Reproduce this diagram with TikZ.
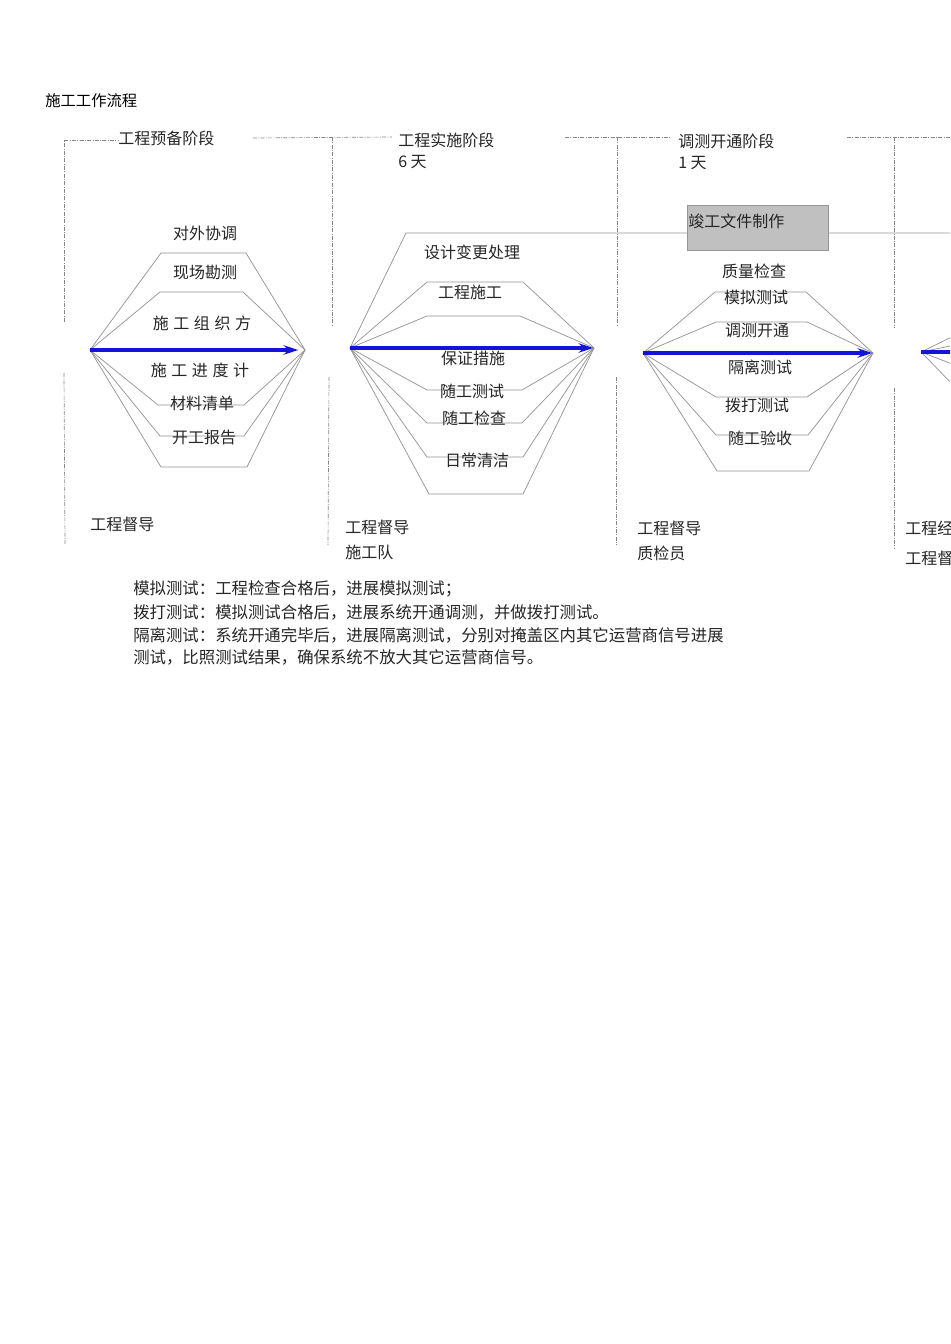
\documentclass[tikz,border=0pt]{standalone}
\usepackage{fontspec}
\setmainfont{Noto Sans CJK SC}
\usetikzlibrary{arrows.meta}
\definecolor{hexgray}{RGB}{150,150,150}
\definecolor{dashgray}{RGB}{135,135,135}
\definecolor{flowblue}{RGB}{20,20,215}
\definecolor{boxfill}{RGB}{192,192,192}
\definecolor{boxline}{RGB}{150,150,150}
\tikzset{
  txt/.style={inner sep=0pt, font=\fontsize{12pt}{14pt}\selectfont, text=black!85},
  notetxt/.style={inner sep=0pt, font=\fontsize{12.3pt}{14pt}\selectfont, text=black!85},
  titletxt/.style={inner sep=0pt, font=\fontsize{11.5pt}{13pt}\selectfont, text=black},
  hexline/.style={draw=hexgray, line width=0.55pt},
  phaseline/.style={draw=dashgray, line width=0.5pt, dash pattern=on 3pt off 1pt on 0.7pt off 1pt},
  flowarrow/.style={draw=flowblue, line width=2.6pt, -{Stealth[length=11pt,width=7pt]}},
  flowline/.style={draw=flowblue, line width=2.6pt},
  docbox/.style={draw=boxline, fill=boxfill, line width=0.5pt, minimum width=105.75pt, minimum height=33.75pt, inner sep=0pt}
}
\begin{document}
\begin{tikzpicture}[x=0.75pt,y=-0.75pt]
\useasboundingbox (0,0) rectangle (950,1344);
\clip (0,0) rectangle (950,1344);
\fill[white] (0,0) rectangle (950,1344);

% apex coordinates
\coordinate (L1) at (90,350);  \coordinate (R1) at (305,350);
\coordinate (L2) at (350,348); \coordinate (R2) at (594,348);
\coordinate (L3) at (643,353); \coordinate (R3) at (873,353);
\coordinate (L4) at (921,352); \coordinate (E4) at (960,352);

% phase frame (dash-dot)
\draw[phaseline] (64,322) -- (64,140) -- (118,140);
\draw[phaseline] (64,373) -- (65,545);
\draw[phaseline] (253,138) -- (392,137);
\draw[phaseline] (332,137) -- (332,327);
\draw[phaseline] (329,377) -- (328,545);
\draw[phaseline] (565,137) -- (670,137);
\draw[phaseline] (617,137) -- (617,327);
\draw[phaseline] (616,377) -- (616,545);
\draw[phaseline] (847,137) -- (950,137);
\draw[phaseline] (894,137) -- (894,328);
\draw[phaseline] (894,388) -- (894,548);

% section 1 shapes
\draw[hexline] (L1) -- (161,253) -- (246,253) -- (R1);
\draw[hexline] (L1) -- (160,292) -- (243,292) -- (R1);
\draw[hexline] (L1) -- (158,405) -- (244,405) -- (R1);
\draw[hexline] (L1) -- (160,436) -- (244,436) -- (R1);
\draw[hexline] (L1) -- (161,467) -- (247,467) -- (R1);
\draw[flowarrow, shorten >=5pt] (L1) -- (R1);

% section 2 shapes
\draw[hexline] (L2) -- (406,233) -- (950,233);
\draw[hexline] (L2) -- (427,282) -- (523,282) -- (R2);
\draw[hexline] (L2) -- (427,316) -- (520,316) -- (R2);
\draw[hexline] (L2) -- (427,390) -- (522,390) -- (R2);
\draw[hexline] (L2) -- (427,423) -- (522,423) -- (R2);
\draw[hexline] (L2) -- (427,457) -- (523,457) -- (R2);
\draw[hexline] (L2) -- (429,494) -- (523,494) -- (R2);
\draw[flowarrow, shorten >=0.5pt] (L2) -- (R2);

% section 3 shapes
\draw[hexline] (L3) -- (715,292) -- (806,292) -- (R3);
\draw[hexline] (L3) -- (716,322) -- (807,322) -- (R3);
\draw[hexline] (L3) -- (716,397) -- (807,397) -- (R3);
\draw[hexline] (L3) -- (716,435) -- (808,435) -- (R3);
\draw[hexline] (L3) -- (717,471) -- (809,471) -- (R3);
\draw[flowarrow, shorten >=0.5pt] (L3) -- (R3);

% section 4 (cut by the page edge)
\draw[hexline] (L4) -- (960,333);
\draw[hexline] (L4) -- (960,344);
\draw[hexline] (L4) -- (960,367);
\draw[hexline] (L4) -- (960,392);
\draw[flowline] (L4) -- (E4);

% completion document box
\node[docbox, anchor=north west] (doc) at (687,205) {};
\node[txt, anchor=west] (doctxt) at (688,221) {竣工文件制作};

% title and phase headers
\node[titletxt, anchor=west] (title) at (45,101) {施工工作流程};
\node[txt, anchor=west] (ph1) at (118,138) {工程预备阶段};
\node[txt, anchor=west] (ph2) at (398,140) {工程实施阶段};
\node[txt, anchor=west] (ph2d) at (398,162) {6 天};
\node[txt, anchor=west] (ph3) at (678,141) {调测开通阶段};
\node[txt, anchor=west] (ph3d) at (678,163) {1 天};

% section 1 labels
\node[txt] (a1) at (205,233) {对外协调};
\node[txt] (a2) at (205,272) {现场勘测};
\node[txt] (a3) at (202,323) {施\hspace{3.4pt}工\hspace{3.4pt}组\hspace{3.4pt}织\hspace{3.4pt}方};
\node[txt] (a4) at (200,370) {施\hspace{3.4pt}工\hspace{3.4pt}进\hspace{3.4pt}度\hspace{3.4pt}计};
\node[txt] (a5) at (202,403) {材料清单};
\node[txt] (a6) at (204,437) {开工报告};
\node[txt, anchor=west] (a7) at (90,524) {工程督导};

% section 2 labels
\node[txt] (b1) at (472,252) {设计变更处理};
\node[txt] (b2) at (470,292) {工程施工};
\node[txt] (b3) at (473,358) {保证措施};
\node[txt] (b4) at (472,391) {随工测试};
\node[txt] (b5) at (474,418) {随工检查};
\node[txt] (b6) at (477,460) {日常清洁};
\node[txt, anchor=west] (b7) at (345,527) {工程督导};
\node[txt, anchor=west] (b8) at (345,552) {施工队};

% section 3 labels
\node[txt] (c1) at (754,271) {质量检查};
\node[txt] (c2) at (756,297) {模拟测试};
\node[txt] (c3) at (757,331) {调测开通};
\node[txt] (c4) at (760,367) {隔离测试};
\node[txt] (c5) at (757,405) {拨打测试};
\node[txt] (c6) at (760,438) {随工验收};
\node[txt, anchor=west] (c7) at (637,528) {工程督导};
\node[txt, anchor=west] (c8) at (637,553) {质检员};

% section 4 labels (cut by the page edge, as in the reference)
\node[txt, anchor=west] (d1) at (905,528) {工程经理};
\node[txt, anchor=west] (d2) at (905,558) {工程督导};

% notes
\node[notetxt, anchor=west] (n1) at (133,589) {模拟测试：工程检查合格后，进展模拟测试；};
\node[notetxt, anchor=west] (n2) at (133,612) {拨打测试：模拟测试合格后，进展系统开通调测，并做拨打测试。};
\node[notetxt, anchor=west] (n3) at (133,635) {隔离测试：系统开通完毕后，进展隔离测试，分别对掩盖区内其它运营商信号进展};
\node[notetxt, anchor=west] (n4) at (133,657) {测试，比照测试结果，确保系统不放大其它运营商信号。};
\end{tikzpicture}
\end{document}
